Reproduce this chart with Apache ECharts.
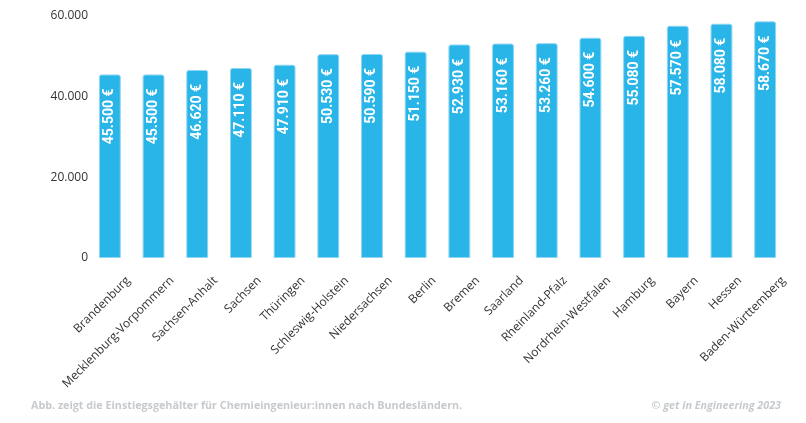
<!DOCTYPE html>
<html>
<head>
<meta charset="utf-8">
<script src="https://cdn.jsdelivr.net/npm/echarts@6/dist/echarts.min.js"></script>
<style>html,body{margin:0;padding:0;background:#fff;}#c{width:806px;height:423px;}</style>
</head>
<body>
<div id="c"></div>
<script>
const categories = ["Brandenburg","Mecklenburg-Vorpommern","Sachsen-Anhalt","Sachsen","Thüringen","Schleswig-Holstein","Niedersachsen","Berlin","Bremen","Saarland","Rheinland-Pfalz","Nordrhein-Westfalen","Hamburg","Bayern","Hessen","Baden-Württemberg"];
const salaries = [45500,45500,46620,47110,47910,50530,50590,51150,52930,53160,53260,54600,55080,57570,58080,58670];
const yTicks = [0,20000,40000,60000];
const footnote = "Abb. zeigt die Einstiegsgehälter für Chemieingenieur:innen nach Bundesländern.";
const credit = "© get in Engineering 2023";

function fmt(v){ return String(v).replace(/\B(?=(\d{3})+(?!\d))/g, "."); }

const chart = echarts.init(document.getElementById('c'), null, {renderer:'canvas'});
chart.setOption({
  animation:false,
  title:[
    {text:footnote, left:31, top:400, padding:0, textStyle:{fontFamily:'Open Sans', fontSize:10.75, fontWeight:'bold', color:'#c6cacd'}},
    {text:credit, right:25, top:400, padding:0, textStyle:{fontFamily:'Open Sans', fontSize:10.75, fontWeight:'bold', fontStyle:'italic', color:'#c6cacd'}}
  ],
  grid:{left:88, right:19, top:16, bottom:165, containLabel:false},
  xAxis:{
    type:'category', data:categories,
    axisLine:{show:false}, axisTick:{show:false},
    axisLabel:{rotate:45, interval:0, margin:39, padding:[0,-26,0,0], fontFamily:'Open Sans', fontSize:12, color:'#333'}
  },
  yAxis:{
    type:'value', min:yTicks[0], max:yTicks[yTicks.length-1], interval:20000,
    axisLine:{show:false}, axisTick:{show:false}, splitLine:{show:false},
    axisLabel:{margin:0, fontFamily:'Open Sans', fontSize:12, color:'#333', formatter:v=>fmt(v)}
  },
  series:[{
    type:'bar', data:salaries, barWidth:'50%',
    itemStyle:{color:'#29b5e8', borderColor:'#8fd6f3', borderWidth:1, borderRadius:[2,2,0,0]},
    label:{show:true, position:'insideTop', rotate:90, align:'right', verticalAlign:'middle', distance:14,
      fontFamily:'Roboto', fontWeight:'bold', fontSize:14, color:'#fff', formatter:p=>fmt(p.value)+' €'}
  }]
});
</script>
</body>
</html>
